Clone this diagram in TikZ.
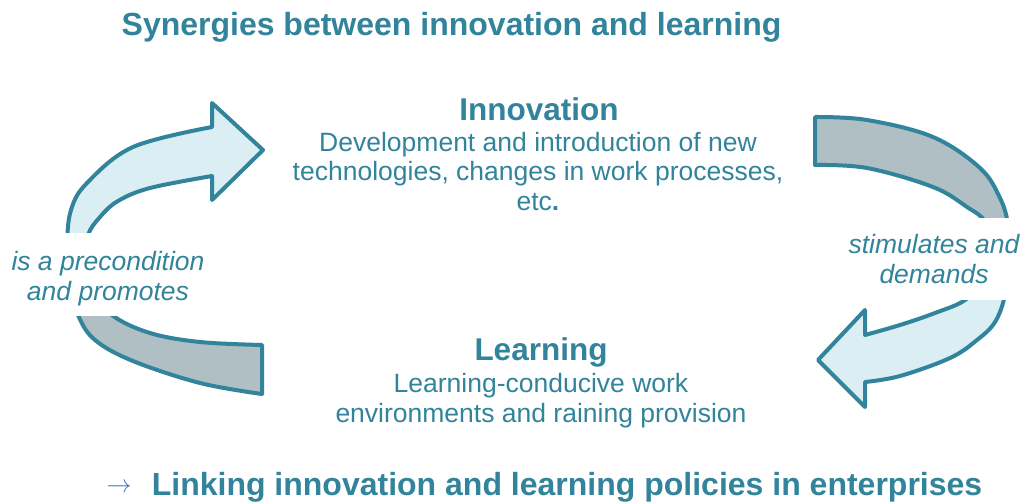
\documentclass[tikz,border=0pt]{standalone}
\usepackage{fontspec}
\setmainfont{Liberation Sans}
\definecolor{tealc}{HTML}{31849B}
\definecolor{lightc}{HTML}{DAEEF3}
\definecolor{grayc}{HTML}{AFBFC4}
\definecolor{arrowblue}{HTML}{4472C4}
\begin{document}
\begin{tikzpicture}[x=1pt,y=-1pt,
  txt/.style={text=tealc, inner sep=0pt, align=center},
  bigbold/.style={txt, font=\fontsize{32}{36}\selectfont\bfseries},
  heading/.style={txt, font=\fontsize{31.5}{36}\selectfont\bfseries},
  body/.style={txt, font=\fontsize{26.5}{29.5}\selectfont},
  lab/.style={txt, font=\fontsize{26.5}{29.5}\selectfont\itshape},
  whitebox/.style={fill=white, draw=none, inner sep=0pt},
  outline/.style={draw=tealc, line width=4pt, line join=round}
]
\useasboundingbox (0,0) rectangle (1022,501);
\fill[white] (0,0) rectangle (1022,501);

\def\leftarr{plot[smooth,tension=0.6] coordinates {(262,394) (200,383) (133,361) (95,340) (78,315) (68,280) (67,245) (71,210) (87,183) (133,147) (212,127)} -- (212,103) -- (263,150) -- (212,200) -- (212,176) -- plot[smooth,tension=0.6] coordinates {(212,176) (150,188) (118,201) (100,217) (88,235) (86,260) (95,290) (112,315) (150,333) (200,342) (262,345)} -- cycle}
\def\rightarr{plot[smooth,tension=0.6] coordinates {(815,117) (867,120) (933,137) (980,168) (1000,198) (1008,225) (1009,258) (1005,295) (995,322) (977,340) (950,358) (900,376) (865,382)} -- (865,407) -- (818,360) -- (865,310) -- (865,335) -- plot[smooth,tension=0.6] coordinates {(865,335) (900,325) (935,313) (965,300) (980,280) (988,250) (985,222) (967,207) (933,187) (867,168) (815,165)} -- cycle}

% left curved arrow
\begin{scope}
  \clip (0,0) rectangle (1022,275);
  \fill[lightc] \leftarr;
\end{scope}
\begin{scope}
  \clip (0,275) rectangle (1022,501);
  \fill[grayc] \leftarr;
\end{scope}
\draw[outline] \leftarr;

% right curved arrow
\begin{scope}
  \clip (0,0) rectangle (1022,259);
  \fill[grayc] \rightarr;
\end{scope}
\begin{scope}
  \clip (0,259) rectangle (1022,501);
  \fill[lightc] \rightarr;
\end{scope}
\draw[outline] \rightarr;

% label boxes
\node[whitebox, minimum width=216, minimum height=83] (lbox) at (108,274.5) {};
\node[whitebox, minimum width=180, minimum height=82] (rbox) at (932,259) {};
\node[lab, anchor=base] (precond) at (108,300) {is a precondition\\and promotes};
\node[lab, anchor=base] (stim) at (934,283) {stimulates and\\demands};

% texts
\node[bigbold, anchor=base] (title) at (451.5,35) {Synergies between innovation and learning};
\node[heading, anchor=base] (innov) at (539,120) {Innovation};
\node[body, anchor=base] (innovtxt) at (538,210) {Development and introduction of new\\technologies, changes in work processes,\\etc\textbf{.}};
\node[heading, anchor=base] (learn) at (541,360) {Learning};
\node[body, anchor=base] (learntxt) at (541,422) {Learning-conducive work\\environments and raining provision};
\node[txt, anchor=base, text=arrowblue, font=\fontsize{24.88}{26}\selectfont] (linkarrow) at (119,492) {$\rightarrow$};
\node[bigbold, anchor=base] (linktext) at (567,495) {Linking innovation and learning policies in enterprises};
\end{tikzpicture}
\end{document}
